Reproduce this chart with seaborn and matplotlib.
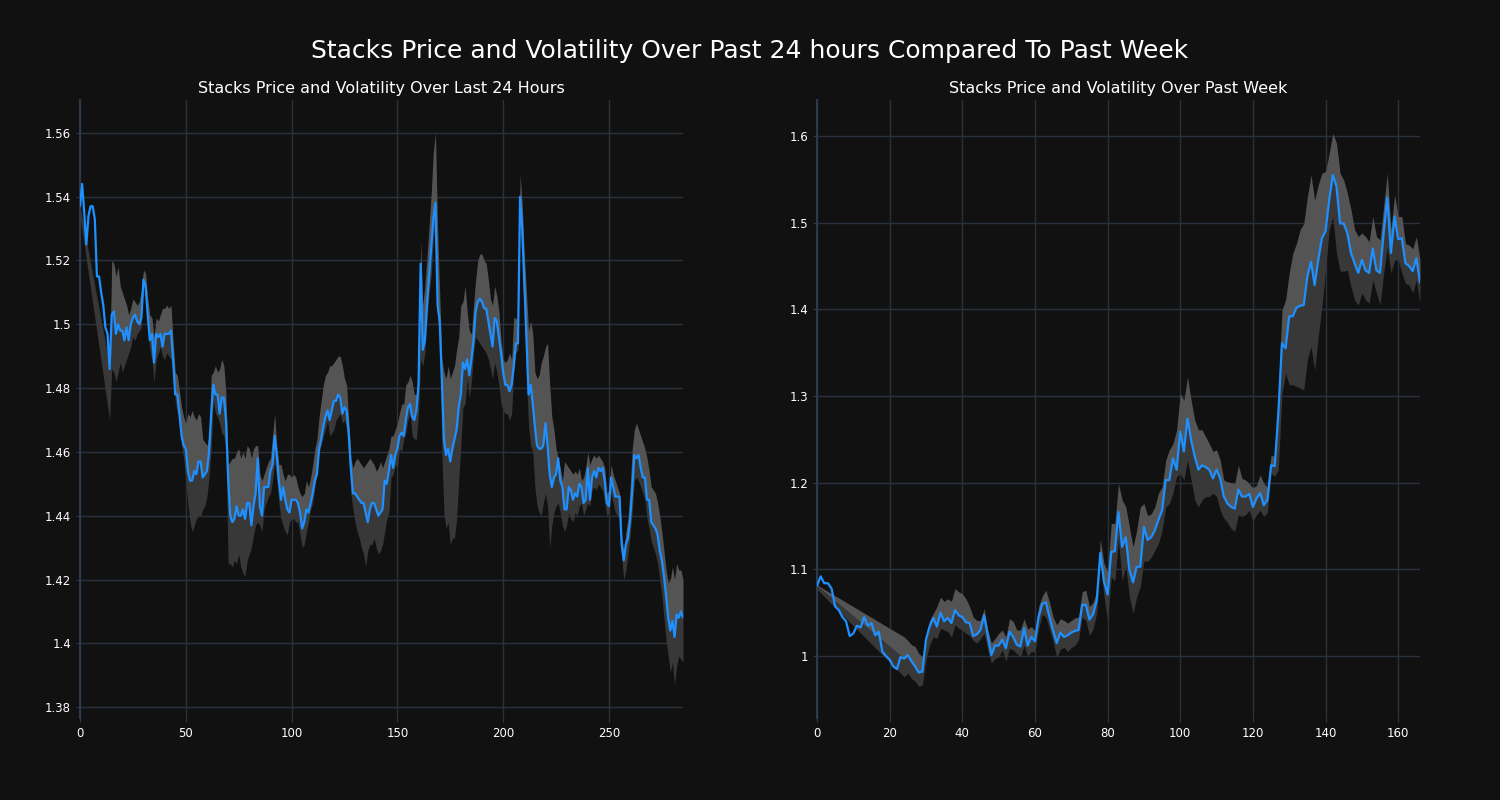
import numpy as np
import pandas as pd
import matplotlib
matplotlib.use("Agg")
import matplotlib.pyplot as plt
from matplotlib.ticker import FuncFormatter
import seaborn as sns

# ---------------- data: last 24 hours ----------------
day_price = [
    1.537, 1.544, 1.535, 1.525, 1.534, 1.537, 1.537, 1.533, 1.515, 1.515,
    1.510, 1.506, 1.499, 1.497, 1.486, 1.503, 1.504, 1.497, 1.500, 1.498,
    1.498, 1.495, 1.499, 1.495, 1.500, 1.502, 1.503, 1.501, 1.500, 1.502,
    1.514, 1.512, 1.503, 1.495, 1.497, 1.488, 1.497, 1.496, 1.497, 1.493,
    1.497, 1.497, 1.497, 1.498, 1.489, 1.478, 1.478, 1.472, 1.465, 1.462,
    1.461, 1.454, 1.451, 1.451, 1.454, 1.453, 1.457, 1.457, 1.452, 1.453,
    1.454, 1.460, 1.472, 1.481, 1.478, 1.478, 1.472, 1.477, 1.477, 1.470,
    1.452, 1.440, 1.438, 1.439, 1.443, 1.440, 1.440, 1.442, 1.439, 1.444,
    1.444, 1.437, 1.443, 1.447, 1.458, 1.443, 1.440, 1.449, 1.449, 1.449,
    1.454, 1.456, 1.465, 1.459, 1.451, 1.445, 1.449, 1.445, 1.442, 1.441,
    1.445, 1.445, 1.445, 1.444, 1.441, 1.436, 1.438, 1.442, 1.441, 1.444,
    1.447, 1.451, 1.453, 1.461, 1.464, 1.468, 1.471, 1.473, 1.470, 1.473,
    1.476, 1.476, 1.478, 1.477, 1.472, 1.474, 1.473, 1.466, 1.455, 1.447,
    1.447, 1.446, 1.445, 1.444, 1.444, 1.441, 1.438, 1.442, 1.444, 1.444,
    1.442, 1.440, 1.441, 1.442, 1.451, 1.450, 1.454, 1.459, 1.455, 1.459,
    1.461, 1.465, 1.466, 1.465, 1.470, 1.474, 1.475, 1.471, 1.470, 1.473,
    1.481, 1.519, 1.492, 1.495, 1.506, 1.515, 1.524, 1.533, 1.538, 1.506,
    1.501, 1.483, 1.464, 1.459, 1.461, 1.457, 1.461, 1.464, 1.467, 1.474,
    1.478, 1.488, 1.486, 1.489, 1.484, 1.489, 1.495, 1.504, 1.507, 1.508,
    1.507, 1.505, 1.505, 1.501, 1.497, 1.493, 1.502, 1.501, 1.496, 1.491,
    1.485, 1.481, 1.481, 1.479, 1.481, 1.487, 1.494, 1.494, 1.540, 1.530,
    1.513, 1.496, 1.478, 1.481, 1.475, 1.468, 1.462, 1.461, 1.461, 1.462,
    1.469, 1.462, 1.453, 1.449, 1.452, 1.453, 1.458, 1.451, 1.449, 1.442,
    1.442, 1.449, 1.448, 1.445, 1.447, 1.446, 1.450, 1.449, 1.444, 1.445,
    1.455, 1.445, 1.452, 1.454, 1.452, 1.455, 1.454, 1.455, 1.451, 1.444,
    1.443, 1.452, 1.449, 1.446, 1.446, 1.446, 1.431, 1.426, 1.431, 1.433,
    1.439, 1.448, 1.459, 1.458, 1.459, 1.455, 1.452, 1.452, 1.445, 1.445,
    1.438, 1.437, 1.436, 1.434, 1.429, 1.426, 1.421, 1.415, 1.408, 1.404,
    1.407, 1.402, 1.409, 1.408, 1.410, 1.408,
]

day_upper = [1.537] + [None] * 13 + [
    1.487, 1.520, 1.519, 1.515, 1.518, 1.512,
    1.510, 1.508, 1.506, 1.503, 1.505, 1.508, 1.507, 1.506, 1.507, 1.511,
    1.517, 1.516, 1.508, 1.503, 1.502, 1.496, 1.502, 1.501, 1.503, 1.505,
    1.505, 1.506, 1.505, 1.506, 1.495, 1.485, 1.484, 1.479, 1.474, 1.471,
    1.469, 1.472, 1.471, 1.473, 1.471, 1.470, 1.472, 1.471, 1.464, 1.463,
    1.462, 1.465, 1.484, 1.485, 1.487, 1.485, 1.486, 1.489, 1.487, 1.478,
    1.456, 1.457, 1.458, 1.458, 1.460, 1.461, 1.458, 1.460, 1.458, 1.462,
    1.461, 1.458, 1.461, 1.462, 1.462, 1.453, 1.451, 1.453, 1.455, 1.457,
    1.458, 1.465, 1.472, 1.462, 1.456, 1.456, 1.453, 1.451, 1.453, 1.453,
    1.452, 1.453, 1.452, 1.449, 1.447, 1.446, 1.447, 1.451, 1.449, 1.452,
    1.456, 1.461, 1.464, 1.471, 1.476, 1.481, 1.484, 1.485, 1.487, 1.487,
    1.488, 1.489, 1.490, 1.490, 1.487, 1.483, 1.481, 1.470, 1.458, 1.455,
    1.457, 1.458, 1.457, 1.456, 1.455, 1.456, 1.457, 1.458, 1.457, 1.456,
    1.454, 1.455, 1.457, 1.455, 1.457, 1.459, 1.461, 1.465, 1.465, 1.467,
    1.469, 1.472, 1.475, 1.475, 1.481, 1.482, 1.484, 1.482, 1.478, 1.478,
    1.485, 1.526, 1.506, 1.512, 1.521, 1.531, 1.541, 1.554, 1.560, 1.530,
    1.510, 1.489, 1.485, 1.483, 1.487, 1.483, 1.485, 1.487, 1.492, 1.496,
    1.506, 1.507, 1.512, 1.504, 1.498, 1.497, 1.506, 1.514, 1.520, 1.522,
    1.522, 1.520, 1.519, 1.514, 1.508, 1.506, 1.512, 1.509, 1.504, 1.495,
    1.489, 1.488, 1.489, 1.491, 1.489, 1.502, 1.502, 1.500, 1.547, 1.538,
    1.522, 1.510, 1.498, 1.501, 1.497, 1.485, 1.483, 1.484, 1.488, 1.490,
    1.493, 1.494, 1.481, 1.471, 1.467, 1.461, 1.458, 1.455, 1.451, 1.457,
    1.456, 1.455, 1.454, 1.453, 1.454, 1.453, 1.455, 1.451, 1.452, 1.455,
    1.460, 1.456, 1.458, 1.459, 1.458, 1.459, 1.458, 1.457, 1.455, 1.447,
    1.448, 1.456, 1.453, 1.451, 1.449, 1.447, 1.434, 1.429, 1.435, 1.439,
    1.449, 1.461, 1.467, 1.469, 1.467, 1.465, 1.463, 1.461, 1.458, 1.454,
    1.449, 1.448, 1.447, 1.444, 1.440, 1.435, 1.429, 1.423, 1.419, 1.420,
    1.424, 1.420, 1.425, 1.423, 1.423, 1.420,
]

day_lower = [1.534] + [None] * 13 + [
    1.470, 1.486, 1.485, 1.482, 1.485, 1.488,
    1.485, 1.487, 1.489, 1.491, 1.493, 1.496, 1.495, 1.497, 1.498, 1.499,
    1.512, 1.510, 1.499, 1.492, 1.489, 1.482, 1.489, 1.491, 1.493, 1.490,
    1.489, 1.491, 1.490, 1.489, 1.485, 1.476, 1.472, 1.469, 1.462, 1.458,
    1.451, 1.444, 1.438, 1.435, 1.437, 1.439, 1.440, 1.440, 1.442, 1.443,
    1.446, 1.452, 1.461, 1.476, 1.472, 1.471, 1.469, 1.466, 1.465, 1.461,
    1.425, 1.425, 1.424, 1.426, 1.425, 1.428, 1.424, 1.422, 1.421, 1.426,
    1.428, 1.430, 1.434, 1.437, 1.438, 1.437, 1.435, 1.442, 1.444, 1.446,
    1.447, 1.451, 1.457, 1.451, 1.444, 1.439, 1.437, 1.435, 1.434, 1.438,
    1.439, 1.439, 1.438, 1.438, 1.434, 1.430, 1.431, 1.435, 1.438, 1.442,
    1.444, 1.449, 1.453, 1.460, 1.462, 1.465, 1.467, 1.470, 1.465, 1.466,
    1.467, 1.470, 1.471, 1.472, 1.469, 1.470, 1.467, 1.458, 1.447, 1.442,
    1.438, 1.435, 1.433, 1.430, 1.428, 1.424, 1.429, 1.431, 1.431, 1.433,
    1.430, 1.428, 1.429, 1.431, 1.435, 1.439, 1.441, 1.452, 1.453, 1.456,
    1.455, 1.461, 1.460, 1.464, 1.466, 1.470, 1.472, 1.465, 1.464, 1.464,
    1.472, 1.489, 1.487, 1.491, 1.501, 1.510, 1.515, 1.527, 1.532, 1.501,
    1.497, 1.460, 1.441, 1.436, 1.438, 1.431, 1.433, 1.433, 1.439, 1.451,
    1.462, 1.474, 1.475, 1.483, 1.477, 1.482, 1.491, 1.496, 1.495, 1.494,
    1.493, 1.492, 1.491, 1.489, 1.486, 1.483, 1.488, 1.485, 1.481, 1.475,
    1.473, 1.472, 1.472, 1.470, 1.472, 1.485, 1.491, 1.492, 1.535, 1.520,
    1.501, 1.483, 1.468, 1.462, 1.460, 1.449, 1.443, 1.441, 1.440, 1.444,
    1.447, 1.443, 1.430, 1.437, 1.441, 1.443, 1.444, 1.441, 1.437, 1.435,
    1.437, 1.441, 1.439, 1.438, 1.441, 1.440, 1.443, 1.444, 1.440, 1.442,
    1.444, 1.443, 1.448, 1.449, 1.448, 1.450, 1.449, 1.448, 1.444, 1.440,
    1.441, 1.447, 1.444, 1.441, 1.440, 1.439, 1.427, 1.420, 1.423, 1.428,
    1.434, 1.441, 1.451, 1.452, 1.451, 1.449, 1.447, 1.445, 1.439, 1.436,
    1.432, 1.430, 1.428, 1.425, 1.420, 1.415, 1.408, 1.401, 1.396, 1.391,
    1.394, 1.387, 1.393, 1.396, 1.395, 1.394,
]

# ---------------- data: past week ----------------
week_price = [
    1.081, 1.092, 1.084, 1.084, 1.078, 1.057, 1.053, 1.045, 1.040, 1.023,
    1.026, 1.035, 1.033, 1.045, 1.035, 1.038, 1.024, 1.028, 1.005, 1.000,
    0.996, 0.988, 0.985, 0.999, 0.997, 1.001, 0.994, 0.988, 0.981, 0.982,
    1.019, 1.034, 1.044, 1.034, 1.050, 1.040, 1.044, 1.038, 1.053, 1.047,
    1.045, 1.039, 1.038, 1.023, 1.025, 1.030, 1.047, 1.024, 1.001, 1.012,
    1.012, 1.019, 1.009, 1.028, 1.022, 1.013, 1.011, 1.032, 1.012, 1.022,
    1.017, 1.045, 1.060, 1.062, 1.045, 1.029, 1.015, 1.027, 1.022, 1.024,
    1.027, 1.029, 1.030, 1.059, 1.059, 1.042, 1.048, 1.064, 1.119, 1.086,
    1.071, 1.120, 1.121, 1.166, 1.126, 1.137, 1.099, 1.085, 1.103, 1.103,
    1.149, 1.134, 1.137, 1.145, 1.157, 1.168, 1.203, 1.203, 1.228, 1.215,
    1.259, 1.236, 1.274, 1.249, 1.230, 1.215, 1.220, 1.218, 1.215, 1.205,
    1.215, 1.205, 1.184, 1.176, 1.172, 1.170, 1.192, 1.184, 1.184, 1.187,
    1.172, 1.182, 1.188, 1.174, 1.180, 1.220, 1.219, 1.280, 1.361, 1.355,
    1.392, 1.392, 1.402, 1.404, 1.405, 1.438, 1.455, 1.428, 1.457, 1.482,
    1.490, 1.526, 1.555, 1.542, 1.499, 1.499, 1.488, 1.465, 1.453, 1.442,
    1.457, 1.445, 1.442, 1.470, 1.445, 1.442, 1.488, 1.529, 1.465, 1.507,
    1.481, 1.482, 1.453, 1.450, 1.444, 1.459, 1.431,
]

week_upper = [1.082] + [None] * 23 + [
    1.022, 1.018, 1.013, 1.011, 1.003, 0.999,
    1.024, 1.041, 1.049, 1.057, 1.068, 1.063, 1.066, 1.063, 1.078, 1.074,
    1.072, 1.066, 1.057, 1.045, 1.041, 1.041, 1.055, 1.030, 1.015, 1.020,
    1.026, 1.030, 1.022, 1.043, 1.040, 1.030, 1.030, 1.043, 1.031, 1.034,
    1.029, 1.057, 1.069, 1.076, 1.062, 1.045, 1.036, 1.043, 1.041, 1.038,
    1.041, 1.044, 1.045, 1.074, 1.076, 1.057, 1.062, 1.074, 1.135, 1.107,
    1.097, 1.153, 1.153, 1.199, 1.180, 1.172, 1.149, 1.126, 1.145, 1.172,
    1.176, 1.162, 1.164, 1.172, 1.188, 1.195, 1.226, 1.238, 1.245, 1.261,
    1.303, 1.295, 1.322, 1.295, 1.272, 1.261, 1.261, 1.253, 1.245, 1.236,
    1.238, 1.226, 1.203, 1.201, 1.200, 1.199, 1.220, 1.205, 1.203, 1.199,
    1.194, 1.197, 1.209, 1.199, 1.195, 1.232, 1.230, 1.303, 1.399, 1.411,
    1.442, 1.465, 1.476, 1.492, 1.499, 1.530, 1.555, 1.526, 1.544, 1.557,
    1.559, 1.580, 1.603, 1.592, 1.557, 1.549, 1.534, 1.515, 1.492, 1.484,
    1.488, 1.484, 1.478, 1.507, 1.484, 1.480, 1.519, 1.557, 1.492, 1.532,
    1.507, 1.507, 1.476, 1.474, 1.470, 1.484, 1.457,
]

week_lower = [1.077] + [None] * 23 + [
    0.976, 0.980, 0.974, 0.971, 0.965, 0.967,
    0.995, 1.013, 1.022, 1.020, 1.032, 1.030, 1.028, 1.022, 1.036, 1.032,
    1.030, 1.026, 1.024, 1.018, 1.015, 1.020, 1.026, 1.007, 0.992, 0.997,
    0.999, 1.007, 0.994, 1.009, 1.007, 1.003, 0.999, 1.012, 1.000, 1.005,
    1.005, 1.031, 1.048, 1.045, 1.031, 1.017, 0.998, 1.008, 1.010, 1.005,
    1.010, 1.012, 1.019, 1.045, 1.041, 1.024, 1.031, 1.050, 1.107, 1.069,
    1.041, 1.091, 1.087, 1.134, 1.087, 1.103, 1.068, 1.049, 1.068, 1.080,
    1.110, 1.109, 1.114, 1.122, 1.130, 1.145, 1.172, 1.176, 1.188, 1.207,
    1.211, 1.203, 1.226, 1.203, 1.180, 1.172, 1.180, 1.184, 1.184, 1.188,
    1.184, 1.168, 1.159, 1.154, 1.147, 1.144, 1.163, 1.161, 1.163, 1.168,
    1.156, 1.163, 1.168, 1.161, 1.166, 1.211, 1.207, 1.215, 1.303, 1.326,
    1.313, 1.313, 1.311, 1.309, 1.307, 1.342, 1.357, 1.330, 1.369, 1.403,
    1.445, 1.492, 1.507, 1.465, 1.444, 1.444, 1.445, 1.426, 1.411, 1.405,
    1.419, 1.411, 1.407, 1.434, 1.419, 1.405, 1.442, 1.472, 1.442, 1.457,
    1.457, 1.442, 1.430, 1.428, 1.419, 1.434, 1.407,
]

suptitle = "Stacks Price and Volatility Over Past 24 hours Compared To Past Week"
title_day = "Stacks Price and Volatility Over Last 24 Hours"
title_week = "Stacks Price and Volatility Over Past Week"
day_xticks = [0, 50, 100, 150, 200, 250]
week_xticks = [0, 20, 40, 60, 80, 100, 120, 140, 160]
day_yticks = [1.38, 1.40, 1.42, 1.44, 1.46, 1.48, 1.50, 1.52, 1.54, 1.56]
week_yticks = [1.0, 1.1, 1.2, 1.3, 1.4, 1.5, 1.6]

# ---------------- style ----------------
BG = "#111111"
GRID = "#29313d"
sns.set_theme(style="darkgrid")
plt.rcParams.update({
    "figure.facecolor": BG,
    "axes.facecolor": BG,
    "axes.edgecolor": "#2c3a4d",
    "grid.color": GRID,
    "grid.linewidth": 1.0,
    "text.color": "white",
    "axes.labelcolor": "white",
    "xtick.color": "white",
    "ytick.color": "white",
})
plt.rcParams["font.family"] = ["DejaVu Sans"]

fig = plt.figure(figsize=(15, 8), dpi=100)
ax1 = fig.add_axes([80 / 1500, 1 - 718 / 800, 603 / 1500, 618 / 800])
ax2 = fig.add_axes([817 / 1500, 1 - 718 / 800, 603 / 1500, 618 / 800])

fmt = FuncFormatter(lambda v, p: f"{v:g}")


def draw(ax, price, upper, lower, title, xticks, yticks):
    df = pd.DataFrame({"price": price, "upper": upper, "lower": lower}, dtype=float)
    df["x"] = np.arange(len(df))
    band = df.dropna(subset=["upper", "lower"])
    ax.fill_between(band["x"], band["price"], band["upper"],
                    color="#545454", linewidth=0, zorder=1)
    ax.fill_between(band["x"], band["lower"], band["price"],
                    color="#383838", linewidth=0, zorder=1)
    sns.lineplot(data=df, x="x", y="price", ax=ax, color="#1e90ff",
                 linewidth=1.6, zorder=3)
    ax.set_xlim(0, len(df) - 1)
    ax.set_xticks(xticks)
    ax.set_yticks(yticks)
    ax.yaxis.set_major_formatter(fmt)
    ax.set_xlabel("")
    ax.set_ylabel("")
    ax.set_title(title, color="white", fontsize=11.5, pad=5)
    ax.grid(True, color=GRID, linewidth=1.0)
    ax.set_axisbelow(True)
    for side in ["top", "right", "bottom"]:
        ax.spines[side].set_visible(False)
    ax.spines["left"].set_visible(True)
    ax.spines["left"].set_color("#2c3a4d")
    ax.spines["left"].set_linewidth(1.5)
    ax.tick_params(axis="both", labelsize=8.5, colors="white",
                   length=3, width=0.8, left=True, bottom=True)
    ax.tick_params(axis="both", color="#2c3a4d")


draw(ax1, day_price, day_upper, day_lower, title_day, day_xticks, day_yticks)
draw(ax2, week_price, week_upper, week_lower, title_week, week_xticks, week_yticks)
ax1.set_ylim(1.3766, 1.5703)
ax2.set_ylim(0.9285, 1.6415)

fig.suptitle(suptitle, color="white", fontsize=18, y=0.951)
fig.savefig("out.png", dpi=100, facecolor=BG)
